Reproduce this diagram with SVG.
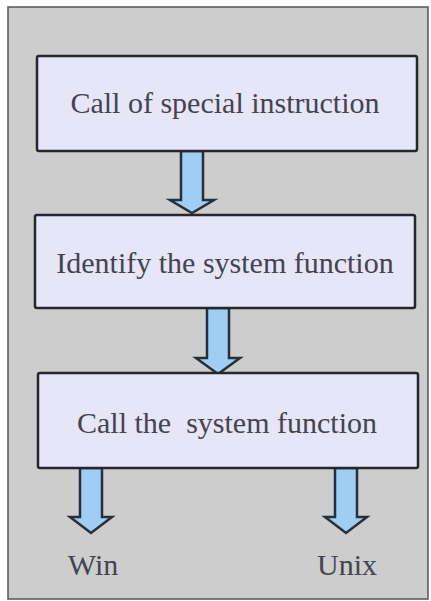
<svg xmlns="http://www.w3.org/2000/svg" width="431" height="601" viewBox="0 0 431 601">
<style>
.box{fill:#e6e6f8;stroke:#26262e;stroke-width:2.5}
.lbl{fill:#44444f;text-anchor:middle}
.arr{fill:#9fcdf4;stroke:#26303a;stroke-width:2.5;stroke-linejoin:miter}
</style>
<rect x="8" y="7" width="420" height="592" fill="#cdcdcd" stroke="#55555a" stroke-width="1.5"/>
<g id="connectors">
<path class="arr" d="M181,151 V200 H170 L192,213 L214,200 H203 V151 Z"/>
<path class="arr" d="M207,308 V358 H196 L218,374 L240,358 H229 V308 Z"/>
<path class="arr" d="M80,468 V517 H70 L91,533 L112,517 H102 V468 Z"/>
<path class="arr" d="M335,468 V517 H325 L346,533 L367,517 H357 V468 Z"/>
</g>
<g id="n1">
<rect class="box" x="37" y="56" width="380" height="95" rx="2"/>
<text class="lbl" font-family="Times New Roman, Liberation Serif, serif" font-size="30" x="225" y="113">Call of special instruction</text>
</g>
<g id="n2">
<rect class="box" x="35" y="215" width="380" height="93" rx="2"/>
<text class="lbl" font-family="Times New Roman, Liberation Serif, serif" font-size="30" x="225" y="273">Identify the system function</text>
</g>
<g id="n3">
<rect class="box" x="38" y="373" width="380" height="95" rx="2"/>
<text class="lbl" font-family="Times New Roman, Liberation Serif, serif" font-size="30" x="227" y="433" xml:space="preserve">Call the  system function</text>
</g>
<g id="win"><text class="lbl" font-family="Times New Roman, Liberation Serif, serif" font-size="30" x="93" y="575">Win</text></g>
<g id="unix"><text class="lbl" font-family="Times New Roman, Liberation Serif, serif" font-size="30" x="347" y="575">Unix</text></g>
</svg>
